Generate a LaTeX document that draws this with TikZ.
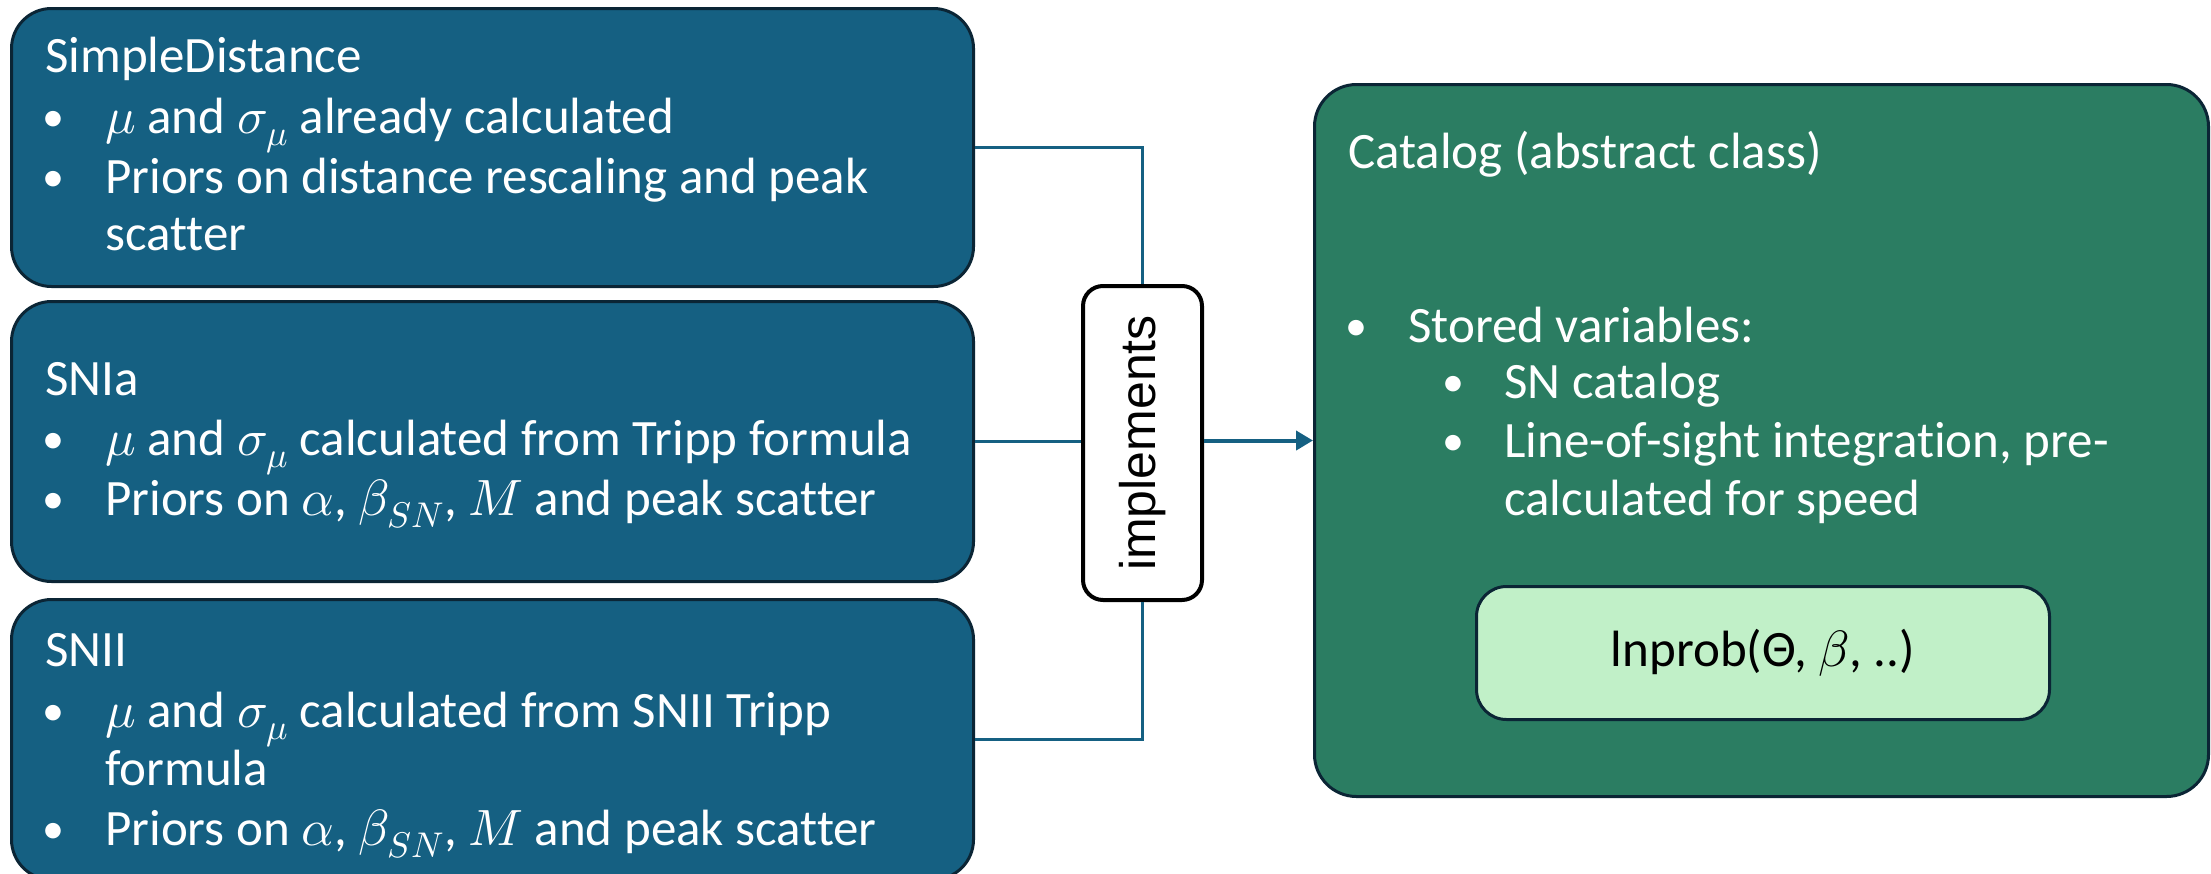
\documentclass[tikz,border=0pt]{standalone}
\usepackage{fontspec}
\usepackage{unicode-math}
\setmainfont{Carlito}[Ligatures=CommonOff]
\setmathfont{Latin Modern Math}
\newfontfamily\arialfont{Liberation Sans}
\usetikzlibrary{arrows.meta}
\definecolor{boxblue}{HTML}{156082}
\definecolor{boxgreen}{HTML}{2B7D62}
\definecolor{edgenavy}{HTML}{0B2535}
\definecolor{lightgreen}{HTML}{C1F0C8}
\begin{document}
\begin{tikzpicture}[x=1pt,y=-1pt,
  bluebox/.style={draw=edgenavy, line width=3pt, fill=boxblue, rounded corners=40pt,
    minimum width=962pt, anchor=north west, inner sep=0pt},
  greenbox/.style={draw=edgenavy, line width=3pt, fill=boxgreen, rounded corners=42pt,
    anchor=north west, inner sep=0pt},
  innerbox/.style={draw=edgenavy, line width=3pt, fill=lightgreen, rounded corners=30pt,
    anchor=north west, inner sep=0pt},
  implbox/.style={draw=black, line width=4pt, fill=white, rounded corners=20pt,
    minimum width=119pt, minimum height=314pt, inner sep=0pt},
  wtext/.style={anchor=base west, inner sep=0pt, text=white,
    font=\fontsize{51}{62}\selectfont},
  wbullet/.style={anchor=base, inner sep=0pt, text=white,
    font=\fontsize{44}{62}\selectfont},
  conn/.style={draw=boxblue, line width=3pt},
  arrowconn/.style={draw=boxblue, line width=4pt, -{Triangle[length=17pt,width=19pt]}}
]
\useasboundingbox (0,0) rectangle (2211,873);

% left boxes
\node[bluebox, minimum height=278pt] (sd) at (10,7) {};
\node[bluebox, minimum height=280pt] (snia) at (10,300) {};
\node[bluebox, minimum height=280pt] (snii) at (10,598) {};

% catalog
\node[greenbox, minimum width=894pt, minimum height=712pt] (cat) at (1313,83) {};
\node[innerbox, minimum width=573pt, minimum height=133pt] (lnp) at (1475,585) {};
\node[inner sep=0pt, text=black, font=\fontsize{51}{62}\selectfont] (lnpt) at (lnp.center) {lnprob(Θ, $\beta$, ..)};

% implements
\node[implbox] (impl) at (1142.5,443) {\rotatebox{90}{\arialfont\fontsize{50}{60}\selectfont implements}};

% SimpleDistance text
\node[wtext] (sdt) at (45,72) {SimpleDistance};
\node[wbullet] (sdb1) at (53,131) {•};
\node[wtext] (sdl1) at (105,133) {$\mu$ and $\sigma_\mu$ already calculated};
\node[wbullet] (sdb2) at (53,191) {•};
\node[wtext] (sdl2) at (105,193) {Priors on distance rescaling and peak};
\node[wtext] (sdl3) at (105,250) {scatter};

% SNIa text
\node[wtext] (siat) at (45,395) {SNIa};
\node[wbullet] (siab1) at (53,453) {•};
\node[wtext] (sial1) at (105,455) {$\mu$ and $\sigma_\mu$ calculated from Tripp formula};
\node[wbullet] (siab2) at (53,513) {•};
\node[wtext] (sial2) at (105,515) {Priors on $\alpha$, $\beta_{SN}$, $M$ and peak scatter};

% SNII text
\node[wtext] (siit) at (45,666) {SNII};
\node[wbullet] (siib1) at (53,725) {•};
\node[wtext] (siil1) at (105,727) {$\mu$ and $\sigma_\mu$ calculated from SNII Tripp};
\node[wtext] (siil2) at (105,785) {formula};
\node[wbullet] (siib2) at (53,843) {•};
\node[wtext] (siil3) at (105,845) {Priors on $\alpha$, $\beta_{SN}$, $M$ and peak scatter};

% Catalog text
\node[wtext] (catt) at (1348,168) {Catalog (abstract class)};
\node[wbullet] (catb1) at (1356,340) {•};
\node[wtext] (catl1) at (1408,342) {Stored variables:};
\node[wbullet] (catb2) at (1453,396) {•};
\node[wtext] (catl2) at (1504,398) {SN catalog};
\node[wbullet] (catb3) at (1453,455) {•};
\node[wtext] (catl3) at (1504,457) {Line-of-sight integration, pre-};
\node[wtext] (catl4) at (1504,515) {calculated for speed};

% connectors
\draw[conn] (sd.east) -| (impl.north);
\draw[conn] (snia.east) -- (snia.east -| impl.west);
\draw[conn] (snii.east) -| (impl.south);
\draw[arrowconn] (impl.east |- cat.west) -- (cat.west);
\end{tikzpicture}
\end{document}
